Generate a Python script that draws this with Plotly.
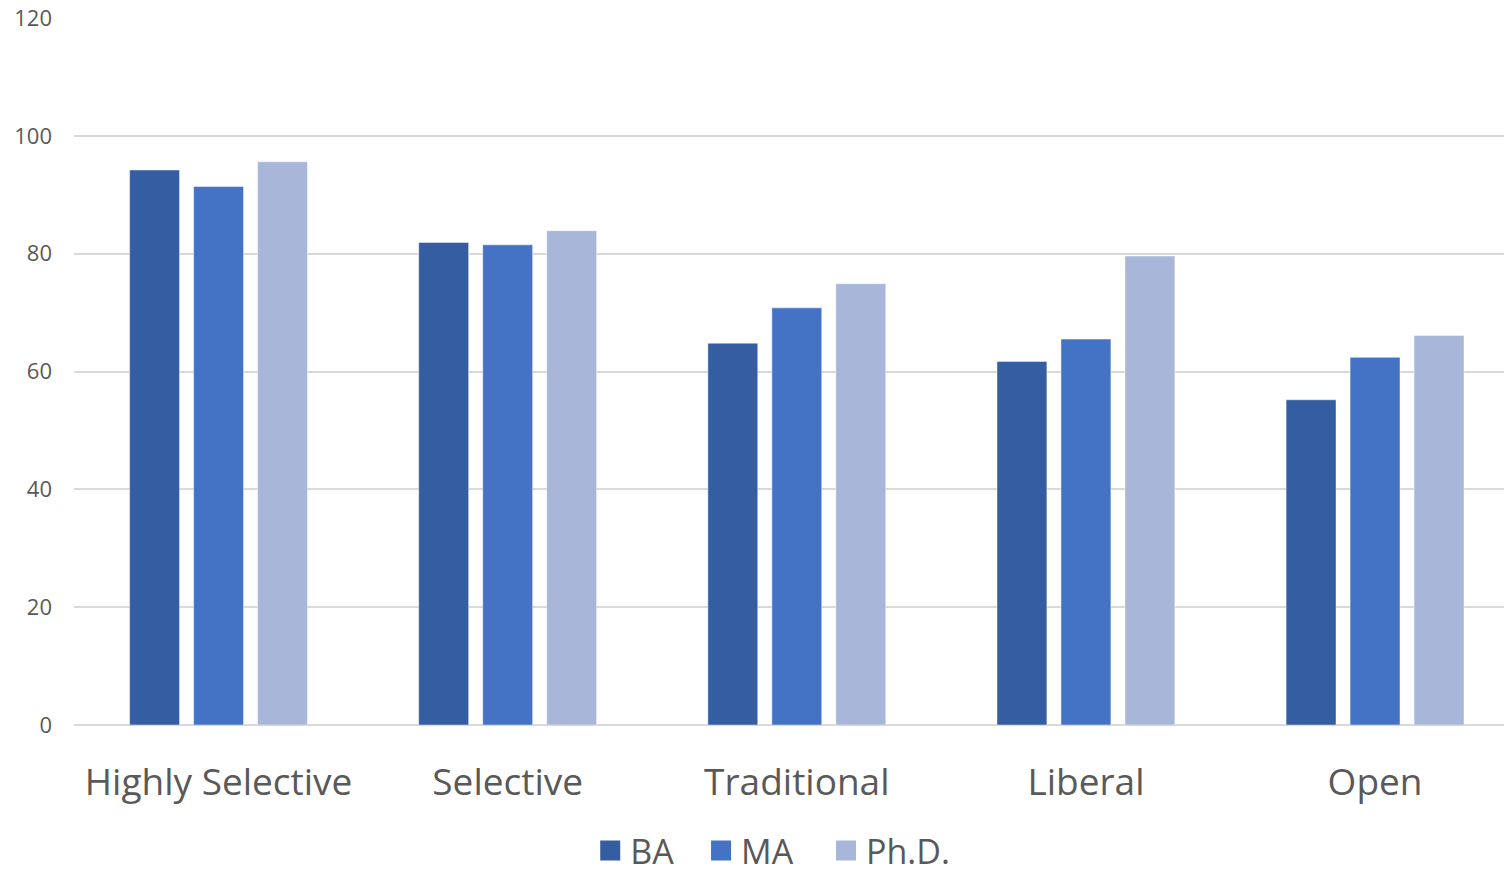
import plotly.graph_objects as go

# Completion rates by admissions selectivity and degree level
categories = ["Highly Selective", "Selective", "Traditional", "Liberal", "Open"]
ba = [94.2, 81.9, 64.8, 61.7, 55.2]
ma = [91.4, 81.5, 70.8, 65.5, 62.4]
phd = [95.6, 83.9, 74.9, 79.6, 66.1]

series = [("BA", ba, "#355DA1"), ("MA", ma, "#4472C4"), ("Ph.D.", phd, "#A8B6DA")]
y_ticks = [0, 20, 40, 60, 80, 100, 120]

FONT = "Open Sans"
TEXT = "#595959"

# each series gets its own legend box so the entries can be spaced freely
legend_ids = ["legend", "legend2", "legend3"]
legend_x = [0.361, 0.4385, 0.5259]

fig = go.Figure()
for (name, vals, color), lg in zip(series, legend_ids):
    fig.add_trace(go.Bar(
        x=categories, y=vals, name=name, legendgroup=name, showlegend=False,
        marker=dict(color=color, line=dict(color="rgba(255,255,255,0.45)", width=1)),
    ))
    # larger square swatch for the legend entry
    fig.add_trace(go.Scatter(
        x=[None], y=[None], mode="markers", name=name, legendgroup=name, legend=lg,
        marker=dict(symbol="square", size=16, color=color, line=dict(color=color, width=4)),
    ))

legend_style = dict(
    orientation="h", xanchor="left", y=-0.1782, yanchor="middle",
    font=dict(size=34, color=TEXT, family=FONT), itemwidth=30,
    bgcolor="rgba(0,0,0,0)",
)

fig.update_layout(
    width=1504, height=874,
    margin=dict(l=74, r=0, t=18, b=149, autoexpand=False),
    paper_bgcolor="white", plot_bgcolor="white",
    barmode="group", bargap=0.336, bargroupgap=0.22,
    font=dict(family=FONT, color=TEXT),
    showlegend=True,
    xaxis=dict(
        type="category", range=[-0.5, 4.446], showgrid=False, showline=False,
        ticks="", tickfont=dict(size=37, color=TEXT), ticklabelstandoff=32,
    ),
    yaxis=dict(
        range=[0, 120], tickvals=y_ticks, showgrid=True, gridcolor="#D9D9D9",
        gridwidth=2, zeroline=True, zerolinecolor="#D9D9D9", zerolinewidth=2,
        showline=False, ticks="", tickfont=dict(size=22, color=TEXT),
        ticklabelstandoff=21,
    ),
)
for lg, lx in zip(legend_ids, legend_x):
    fig.update_layout({lg: dict(legend_style, x=lx)})

fig.write_html("out.html")
